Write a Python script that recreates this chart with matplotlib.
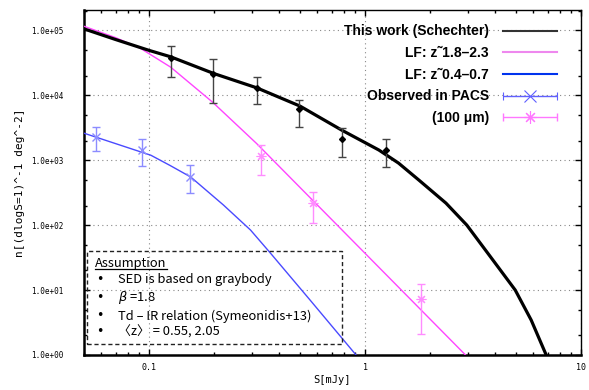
import matplotlib
matplotlib.use('Agg')
import matplotlib.pyplot as plt
import numpy as np
from matplotlib.lines import Line2D
from matplotlib.patches import Rectangle
from matplotlib.legend_handler import HandlerErrorbar
from matplotlib.ticker import LogLocator, NullFormatter

# Schechter fit (this work)
black_s = [0.05, 0.07, 0.1, 0.126, 0.2, 0.315, 0.5, 0.78, 1.16, 1.43, 1.78, 2.37,
           2.96, 3.85, 4.96, 5.88, 6.9]
black_n = [1.05e5, 7.2e4, 4.9e4, 3.9e4, 2.15e4, 1.3e4, 6.8e3, 2.9e3, 1.43e3, 900, 490, 218,
           100, 31, 10, 3.45, 1]

# LF z~1.8-2.3
mag_s = [0.05, 0.07, 0.091, 0.126, 0.197, 0.315, 2.92]
mag_n = [1.15e5, 7.7e4, 5.3e4, 2.7e4, 7.8e3, 1.8e3, 1]

# LF z~0.4-0.7
blue_s = [0.05, 0.102, 0.125, 0.156, 0.221, 0.295, 0.365, 0.557, 0.909]
blue_n = [2.6e3, 1.19e3, 830, 550, 204, 84, 37, 7.0, 1]

# observed points
obs_s = [0.126, 0.197, 0.315, 0.497, 0.78, 1.25]
obs_n = [3.8e4, 2.1e4, 1.28e4, 6.1e3, 2.1e3, 1.43e3]
obs_lo = [1.9e4, 7.6e3, 7.3e3, 3.2e3, 1.1e3, 7.8e2]
obs_hi = [5.7e4, 3.6e4, 1.9e4, 8.5e3, 3.1e3, 2.1e3]

pacs_lo_s = [0.057, 0.093, 0.155]
pacs_lo_n = [2.26e3, 1.43e3, 550]
pacs_lo_lo = [1.4e3, 8.1e2, 310]
pacs_lo_hi = [3.2e3, 2.1e3, 830]

pacs_hi_s = [0.33, 0.575, 1.81]
pacs_hi_n = [1.15e3, 218, 7.3]
pacs_hi_lo = [590, 107, 2.1]
pacs_hi_hi = [1.7e3, 325, 12.3]

ytick_vals = [1e0, 1e1, 1e2, 1e3, 1e4, 1e5]
ytick_labels = ['1.0e+00', '1.0e+01', '1.0e+02', '1.0e+03', '1.0e+04', '1.0e+05']
xtick_vals = [0.1, 1, 10]
xtick_labels = ['0.1', '1', '10']

legend_labels = ['This work (Schechter)', 'LF: z\u02dc1.8\u20132.3', 'LF: z\u02dc0.4\u20130.7',
                 'Observed in PACS', '(100 \u03bcm)']
assumptions = ['SED is based on graybody',
               r'$\beta$ =1.8',
               'Td \u2013 IR relation (Symeonidis+13)',
               '\u3008z\u3009 = 0.55, 2.05']


def yerr(n, lo, hi):
    n = np.array(n)
    return [n - np.array(lo), np.array(hi) - n]


fig = plt.figure(figsize=(5.89, 3.90), dpi=100)
ax = fig.add_axes([84/589, 35/390, 497/589, 345/390])

ax.plot(black_s, black_n, color='black', lw=2.3, zorder=4)
ax.plot(mag_s, mag_n, color='#ff44ff', lw=1.0, zorder=3)
ax.plot(blue_s, blue_n, color='#4a4aff', lw=1.0, zorder=3)

ax.errorbar(obs_s, obs_n, yerr=yerr(obs_n, obs_lo, obs_hi), fmt='D', ms=3,
            color='black', ecolor='#444444', elinewidth=1, capsize=3, zorder=5)
ax.errorbar(pacs_lo_s, pacs_lo_n, yerr=yerr(pacs_lo_n, pacs_lo_lo, pacs_lo_hi), fmt='x', ms=6,
            color='#8c8cff', elinewidth=1, capsize=3, zorder=5)
ax.errorbar(pacs_hi_s, pacs_hi_n, yerr=yerr(pacs_hi_n, pacs_hi_lo, pacs_hi_hi), fmt='none',
            ecolor='#ff8cff', elinewidth=1, capsize=3, zorder=5)
ax.plot(pacs_hi_s, pacs_hi_n, ls='none', marker=(8, 2, 0), ms=7, mec='#ff8cff', mew=0.8, zorder=5)

ax.set_xscale('log')
ax.set_yscale('log')
ax.set_xlim(0.05, 10)
ax.set_ylim(1, 2.05e5)

ax.set_yticks(ytick_vals)
ax.set_yticklabels(ytick_labels, family='DejaVu Sans Mono', fontsize=5.5)
ax.yaxis.set_minor_locator(LogLocator(base=10, subs=[2, 5]))
ax.set_xticks(xtick_vals)
ax.set_xticklabels(xtick_labels, family='DejaVu Sans Mono', fontsize=6)
ax.xaxis.set_minor_locator(LogLocator(base=10, subs=np.arange(2, 10)))
ax.xaxis.set_minor_formatter(NullFormatter())
ax.yaxis.set_minor_formatter(NullFormatter())
ax.tick_params(which='both', direction='in', top=True, right=True, color='black')
ax.tick_params(which='major', length=4, width=1)
ax.tick_params(which='minor', length=2.5, width=1)
ax.tick_params(axis='y', which='major', pad=15)
ax.tick_params(axis='x', which='major', pad=6)

for side in ['left', 'bottom']:
    ax.spines[side].set_linewidth(1.8)
for side in ['top', 'right']:
    ax.spines[side].set_linewidth(1.0)

ax.grid(True, which='major', ls=(0, (1, 3)), color='#888888', lw=0.8)

ax.set_ylabel('n[(dlogS=1)^-1 deg^-2]', family='DejaVu Sans Mono', fontsize=8)
ax.yaxis.set_label_coords(-0.119, 0.5)
ax.set_xlabel('S[mJy]', family='DejaVu Sans Mono', fontsize=7.5)
ax.xaxis.set_label_coords(0.5, -0.058)

# legend
h1 = Line2D([], [], color='#333333', lw=1.5)
h2 = Line2D([], [], color='#ee88ee', lw=1.5)
h3 = Line2D([], [], color='#0033ee', lw=1.5)
h4 = ax.errorbar([np.nan], [np.nan], xerr=[1], fmt='x', ms=9, color='#6060ff',
                 elinewidth=1, capsize=3, mew=0.8)
h5 = ax.errorbar([np.nan], [np.nan], xerr=[1], fmt='none', ecolor='#ff77ff',
                 elinewidth=1, capsize=3)
h5m = Line2D([], [], ls='none', marker=(8, 2, 0), ms=9, mec='#ff77ff', mew=0.8)
leg = ax.legend([h1, h2, h3, h4, (h5, h5m)], legend_labels,
                loc='upper right', bbox_to_anchor=(0.952, 0.958), frameon=False,
                markerfirst=False, borderpad=0, borderaxespad=0,
                handlelength=3.9, handletextpad=1.0, labelspacing=0.55,
                prop={'family': 'Liberation Sans', 'weight': 'bold', 'size': 10},
                handler_map={type(h4): HandlerErrorbar(xerr_size=1.95)})

# assumption box
ax.add_patch(Rectangle((0.006, 0.032), 0.513, 0.269, transform=ax.transAxes,
                       fill=False, ls=(0, (3, 2)), lw=1.0, color='#222222', zorder=6))
box_font = ['Noto Sans CJK JP', 'DejaVu Sans']
title = fig.text(95/589, 1 - 264/390, 'Assumption', family=box_font, fontsize=9.3,
                 va='center', ha='left')
rows_y = [280, 298, 316, 332]
for yy, txt in zip(rows_y, assumptions):
    fig.text(96/589, 1 - yy/390, '\u2022', family='DejaVu Sans', fontsize=9, va='center', ha='left')
    fig.text(118/589, 1 - yy/390, txt, family=box_font, fontsize=9.3, va='center', ha='left',
             math_fontfamily='dejavusans')

fig.canvas.draw()
bb = title.get_window_extent().transformed(fig.transFigure.inverted())
fig.add_artist(Line2D([bb.x0, bb.x1], [bb.y0 + 0.004, bb.y0 + 0.004], color='black', lw=0.9,
                      transform=fig.transFigure))

fig.savefig('out.png', dpi=100)
